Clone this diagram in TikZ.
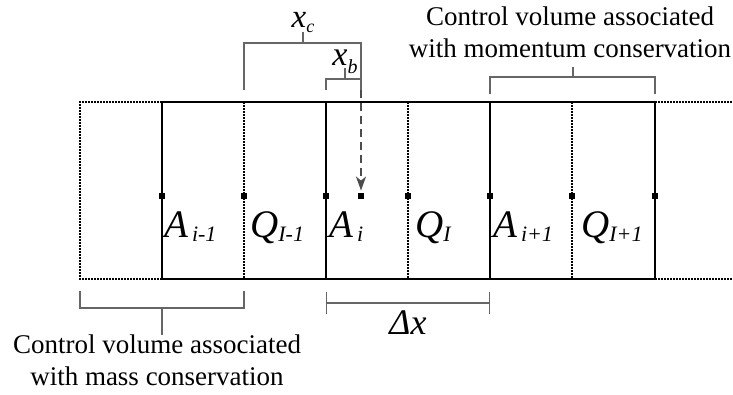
\documentclass[tikz,border=0pt]{standalone}
\usepackage{fontspec}
\setmainfont{Liberation Serif}
\usetikzlibrary{arrows.meta,positioning}

% lowered index: #1 = drop, #2 = size, #3 = text
\newcommand{\low}[3]{\raisebox{-#1}{\fontsize{#2}{#2}\selectfont\itshape #3}}

\begin{document}
\begin{tikzpicture}[x=1pt, y=-1pt]
    % Define styles
    \tikzstyle{wall} = [line width=2.8pt, black]
    \tikzstyle{mid} = [line width=2pt, black, dash pattern=on 1.6pt off 1.4pt]
    \tikzstyle{brace} = [line width=1.2pt, black!60]
    \tikzstyle{pin} = [rectangle, fill=black, inner sep=0pt, minimum size=5.5pt]
    \tikzstyle{var} = [font=\fontsize{39}{40}\selectfont\itshape, inner sep=0pt, anchor=base west]
    \tikzstyle{note} = [font=\fontsize{27}{32.5}\selectfont, align=center, inner sep=0pt]
    \tikzstyle{arrow} = [line width=1.4pt, black!70, dash pattern=on 8pt off 5pt, -{Stealth[length=14pt, width=10pt, inset=4pt]}]

    \useasboundingbox (0,0) rectangle (733,395);

    % Grid
    \draw[mid] (162,102) -- (80,102) -- (80,279) -- (162,279);
    \draw[mid] (655,102) -- (733,102);
    \draw[mid] (655,279) -- (733,279);
    \draw[mid] (244,102) -- (244,279);
    \draw[mid] (408,102) -- (408,279);
    \draw[mid] (572,102) -- (572,279);
    \draw[wall] (326,102) -- (326,279);
    \draw[wall] (490,102) -- (490,279);
    \draw[wall] (162,102) rectangle (655,279);

    % Nodes
    \node[pin] (p1) at (162,196) {};
    \node[pin] (p2) at (244,196) {};
    \node[pin] (p3) at (326,196) {};
    \node[pin] (p4) at (408,196) {};
    \node[pin] (p5) at (490,196) {};
    \node[pin] (p6) at (572,196) {};
    \node[pin] (p7) at (655,196) {};
    \node[pin, minimum size=6.5pt] (pb) at (361,196) {};

    \node[var] (aim) at (164,238) {A\hspace{4pt}\low{4pt}{22}{i-1}};
    \node[var] (qim) at (250,238) {Q\low{4pt}{22}{I-1}};
    \node[var] (ai) at (329,238) {A\hspace{4pt}\low{4pt}{22}{i}};
    \node[var] (qi) at (415,238) {Q\low{4pt}{22}{I}};
    \node[var] (aip) at (493,238) {A\hspace{4pt}\low{4pt}{22}{i+1}};
    \node[var] (qip) at (581,238) {Q\low{4pt}{22}{I+1}};

    % Brackets
    \coordinate (xcl) at (244,90);
    \coordinate (xcr) at (361,90);
    \coordinate (xct) at (303,43);
    \draw[brace] (xcl) |- (xct) -| (xcr);
    \draw[brace] (xct) -- ++(0,-11);
    \node[var, above=15pt of xct, anchor=base, font=\fontsize{33}{34}\selectfont\itshape] (xc) {x\low{5pt}{18}{c}};

    \coordinate (xbl) at (326,90);
    \coordinate (xbt) at (345,79);
    \draw[brace] (xbl) |- (xbt) -| (xcr);
    \draw[brace] (xbt) -- ++(0,-11);
    \node[var, above=13pt of xbt, anchor=base, font=\fontsize{34}{35}\selectfont\itshape] (xb) {x\low{8pt}{20}{b}};

    \coordinate (mol) at (490,94);
    \coordinate (mor) at (655,94);
    \coordinate (mot) at (573,77);
    \draw[brace] (mol) |- (mot) -| (mor);
    \draw[brace] (mot) -- ++(0,-10);
    \node[note, anchor=north] (motext) at (570,6.5) {Control volume associated\\with momentum conservation};

    \coordinate (mal) at (80,291);
    \coordinate (mar) at (244,291);
    \coordinate (mat) at (162,308);
    \draw[brace] (mal) |- (mat) -| (mar);
    \node[note, anchor=north] (matext) at (157,334.5) {Control volume associated\\with mass conservation};
    \draw[brace] (mat) -- (mat |- matext.north);

    \coordinate (dxl) at (326,303);
    \coordinate (dxr) at (490,303);
    \draw[brace, {Bar[width=22pt]}-{Bar[width=22pt]}] (dxl) -- (dxr);
    \node[var, below=31pt of dxl -| p4, anchor=base, font=\fontsize{36}{37}\selectfont\itshape] (dx) {Δx};

    % Arrows
    \draw[arrow, shorten >=2pt] (xcr) -- (pb);
\end{tikzpicture}
\end{document}
